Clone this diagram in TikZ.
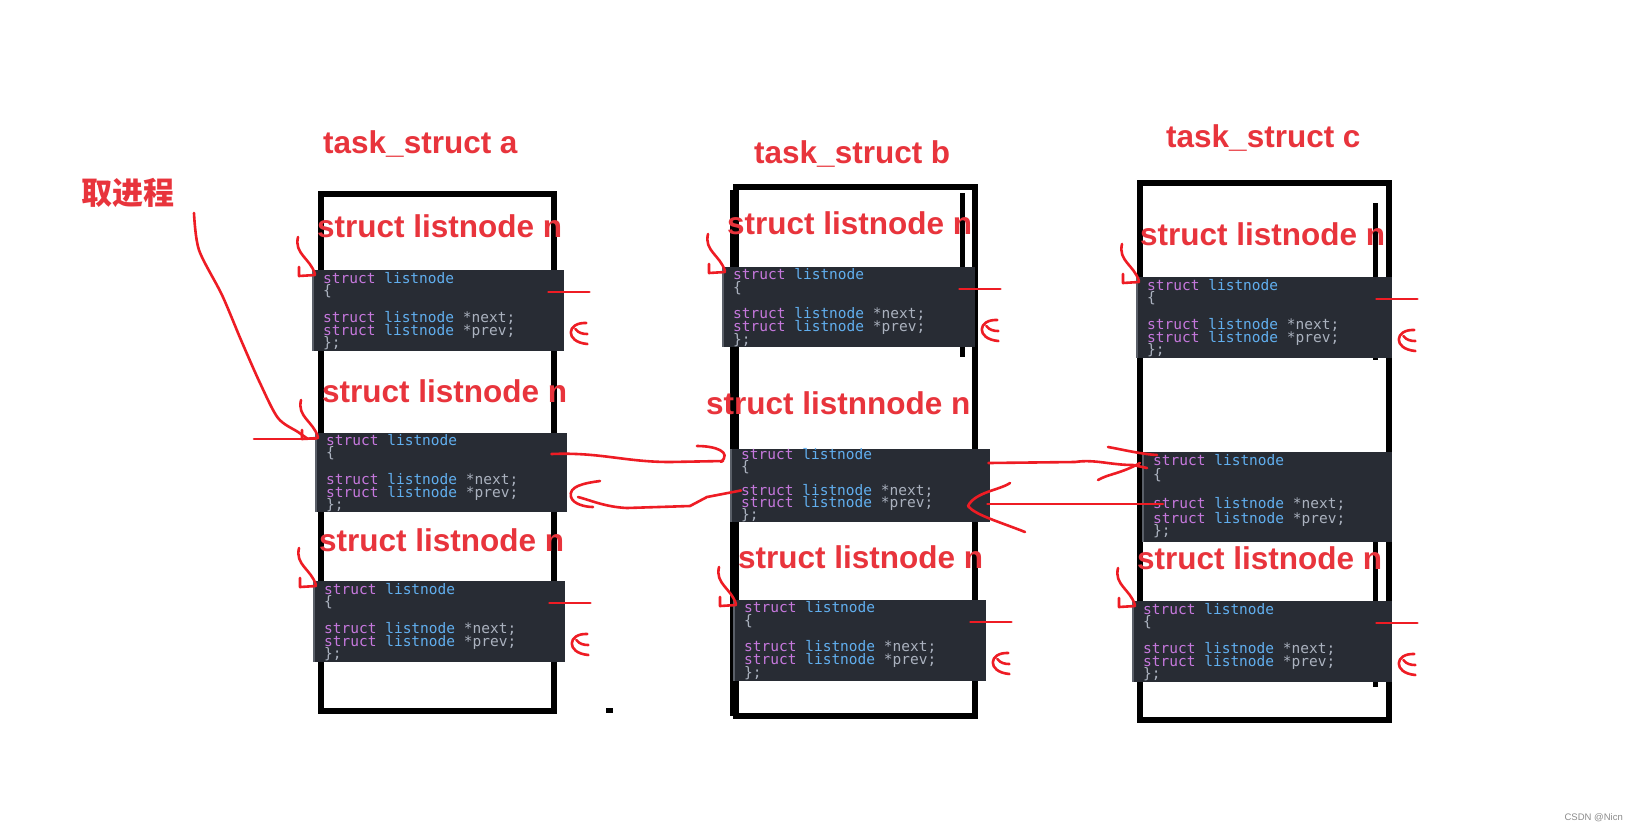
\documentclass[tikz,border=0pt]{standalone}
\usepackage{fontspec}
\setmainfont{Liberation Sans}
\newfontfamily\cjkfont{Noto Sans CJK SC}
\newfontfamily\codefont{DejaVu Sans Mono}
\usetikzlibrary{calc}
\definecolor{lblred}{HTML}{E8343C}
\definecolor{inkred}{HTML}{EE1C24}
\definecolor{codebg}{HTML}{282C34}
\definecolor{codeedge}{HTML}{5A5F68}
\definecolor{kwc}{HTML}{C678DD}
\definecolor{tyc}{HTML}{61AFEF}
\definecolor{plc}{HTML}{ABB2BF}
\newcommand\kwd[1]{\textcolor{kwc}{#1}}
\newcommand\tyn[1]{\textcolor{tyc}{#1}}
\tikzset{
  lbl/.style={text=lblred, font=\fontsize{31.5}{36}\selectfont\bfseries, inner sep=0pt, anchor=base west},
  cjklbl/.style={text=lblred, font=\cjkfont\fontsize{31}{36}\selectfont\bfseries, inner sep=0pt, anchor=base west},
  cbg/.style={fill=codebg, draw=none, inner sep=0pt, anchor=north west},
  ctxt/.style={font=\codefont\fontsize{14.5}{16}\selectfont, text=plc, inner sep=0pt, anchor=base west},
  boxline/.style={draw=black, line width=6pt},
  ink/.style={draw=inkred, line width=2.6pt, line cap=round, line join=round},
  wm/.style={text=black!45, font=\fontsize{9.5}{11}\selectfont, inner sep=0pt, anchor=east}
}
% name, x, y, w, h, o1, o2, o3, o4
\newcommand\codeblk[9]{%
  \node[cbg, minimum width=#4pt, minimum height=#5pt] (#1) at (#2,#3) {};
  \draw[draw=codeedge, line width=1.2pt] (#1.north west) -- (#1.south west);
  \node[ctxt] (#1-a) at ($(#1.north west)+(10,#6)$) {\kwd{struct} \tyn{listnode}};
  \node[ctxt] (#1-b) at ($(#1.north west)+(10,#7)$) {\{};
  \node[ctxt] (#1-c) at ($(#1.north west)+(10,#8)$) {\kwd{struct} \tyn{listnode} *next;};
  \node[ctxt] (#1-d) at ($(#1.north west)+(10,#9)$) {\kwd{struct} \tyn{listnode} *prev;};
  \node[ctxt] (#1-e) at ($(#1.north west)+(10,#9+12.5)$) {\};};
}
\newcommand\inhook[1]{%
  \draw[ink] ($(#1.north west)+(-15,-33)$) .. controls ($(#1.north west)+(-19,-16)$) and ($(#1.north west)+(-3,-12)$) .. ($(#1.north west)+(2,4)$);
  \draw[ink] ($(#1.north west)+(-14,-3)$) -- ($(#1.north west)+(-14,6)$) -- ($(#1.north west)+(2,5)$);
}
\newcommand\outptr[1]{%
  \draw[ink] ($(#1.north east)+(-16,22)$) -- ($(#1.north east)+(25,22)$);
  \draw[ink] ($(#1.north east)+(22,53)$) .. controls ($(#1.north east)+(2,52)$) and ($(#1.north east)+(0,72)$) .. ($(#1.north east)+(23,74)$);
  \draw[ink] ($(#1.north east)+(11,59)$) .. controls ($(#1.north east)+(14,63)$) and ($(#1.north east)+(18,64)$) .. ($(#1.north east)+(23,64)$);
}
\begin{document}
\begin{tikzpicture}[x=1pt,y=-1pt]
\useasboundingbox[fill=white] (0,0) rectangle (1638,831);

% task_struct frames
\draw[boxline] (321,194) rectangle (554,711);
\draw[boxline] (736,187) rectangle (975,716);
\draw[draw=black, line width=8pt] (734,190) -- (734,716);
\draw[draw=black, line width=5pt] (962,193) -- (962,357);
\draw[boxline] (1140,183) rectangle (1389,720);
\draw[draw=black, line width=5pt] (1375,203) -- (1375,360);
\draw[draw=black, line width=5pt] (1375,528) -- (1375,687);
\fill[black] (606,708) rectangle (613,713);

% code blocks
\codeblk{A1}{313}{270}{251}{81}{13}{25.5}{52}{65}
\codeblk{A2}{316}{433}{251}{79}{12}{24.5}{51}{64}
\codeblk{A3}{314}{581}{251}{81}{13}{25.5}{52}{65}
\codeblk{B1}{723}{267}{252}{80}{12.5}{25}{51.5}{64.5}
\codeblk{B2}{731}{449}{259}{73}{10}{22}{46}{58}
\codeblk{B3}{734}{600}{252}{81}{12.5}{25}{51.5}{64.5}
\codeblk{C1}{1137}{277}{255}{81}{13}{25.5}{52}{65}
\codeblk{C2}{1143}{452}{249}{90}{13}{27}{56}{71}
\codeblk{C3}{1133}{601}{259}{81}{13}{25.5}{52}{65}

% titles and labels
\node[lbl] (ta) at (323,153) {task\_struct a};
\node[lbl] (tb) at (754,163) {task\_struct b};
\node[lbl] (tc) at (1166,147) {task\_struct c};
\node[lbl] (la1) at (317,237) {struct listnode n};
\node[lbl] (la2) at (322,402) {struct listnode n};
\node[lbl] (la3) at (319,551) {struct listnode n};
\node[lbl] (lb1) at (727,234) {struct listnode n};
\node[lbl] (lb2) at (706,414) {struct listnnode n};
\node[lbl] (lb3) at (738,568) {struct listnode n};
\node[lbl] (lc1) at (1140,245) {struct listnode n};
\node[lbl] (lc3) at (1137,569) {struct listnode n};
\node[cjklbl] (qu) at (81,204) {取进程};

% hand-drawn hooks and pointers
\inhook{A1}\inhook{A2}\inhook{A3}\inhook{B1}\inhook{B3}\inhook{C1}\inhook{C3}
\outptr{A1}\outptr{A3}\outptr{B1}\outptr{B3}\outptr{C1}\outptr{C3}

% 取进程 -> A2
\draw[ink] plot[smooth] coordinates {(194,213) (199,250) (222,295) (241,340) (260,383) (278,418) (298,432) (308,439)};
\coordinate (qstart) at (254,439);
\draw[ink] (qstart) -- (qstart -| A2.north west);

% A2 next -> B2
\draw[ink] ($(A2.north east)+(-16,21)$) .. controls (600,452) and (625,462) .. (670,462) -- ($(B2.north west)+(-8,12)$);
\draw[ink] (697,446) .. controls (716,446) and (732,452) .. ($(B2.north west)+(-10,13)$);
% B2 -> A2 prev
\draw[ink] (B2-c.west) -- (707,497) -- (690,506) -- (627,508) .. controls (605,507) and (590,500) .. (578,497);
\draw[ink] (600,481) .. controls (585,483) and (568,486) .. (571,497) .. controls (573,504) and (585,507) .. (593,507);

% B2 next -> C2
\draw[ink] ($(B2.north east)+(-2,14)$) -- (1075,462) .. controls (1095,459) and (1110,465) .. (1133,465) -- ($(C2.north west)+(4,16)$);
\draw[ink] (1108,447) .. controls (1120,449) and (1140,454) .. ($(C2.north west)+(14,3)$);
\draw[ink] (1098,480) .. controls (1108,474) and (1120,474) .. ($(C2.north west)+(-3,11)$);
% C2 -> B2 prev
\draw[ink] ($(C2.north west)+(20,52)$) -- (1080,504) -- ($(B2.north east)+(-3,55)$);
\draw[ink] (1010,483) .. controls (1000,490) and (975,492) .. (968,506) .. controls (975,515) and (1000,522) .. (1025,532);

% watermark
\node[wm] (wmk) at (1623,818) {CSDN @Nicn};
\end{tikzpicture}
\end{document}
